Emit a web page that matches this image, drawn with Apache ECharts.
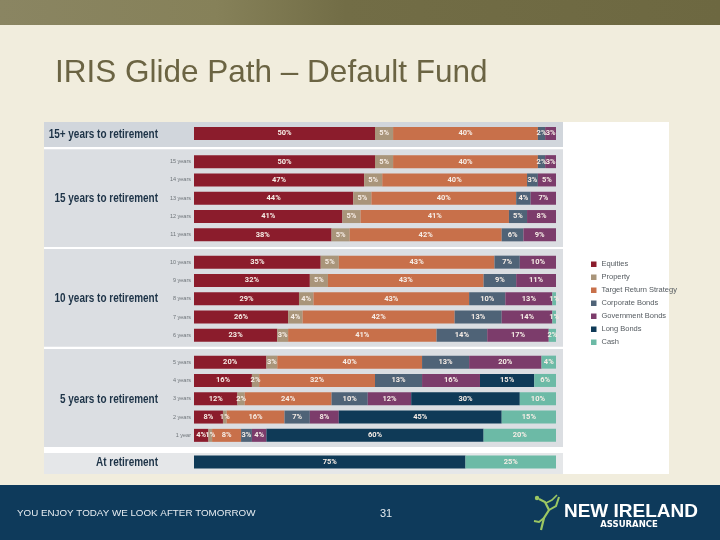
<!DOCTYPE html>
<html>
<head>
<meta charset="utf-8">
<script src="https://cdn.jsdelivr.net/npm/echarts@6/dist/echarts.min.js"></script>
<style>html,body{margin:0;padding:0;background:#f1eddd;}#c{width:720px;height:540px;}</style>
</head>
<body>
<div id="c"></div>
<script>
// ---- data ----
const rowLabels = ['', '15 years', '14 years', '13 years', '12 years', '11 years',
  '10 years', '9 years', '8 years', '7 years', '6 years',
  '5 years', '4 years', '3 years', '2 years', '1 year', ''];
const groupNames = ['15+ years to retirement', '15 years to retirement', '10 years to retirement', '5 years to retirement', 'At retirement'];
const groupSizes = [1, 5, 5, 5, 1];
const assetNames = ['Equities', 'Property', 'Target Return Strategy', 'Corporate Bonds', 'Government Bonds', 'Long Bonds', 'Cash'];
const equities   = [50, 50, 47, 44, 41, 38, 35, 32, 29, 26, 23, 20, 16, 12, 8, 4, 0];
const property   = [5, 5, 5, 5, 5, 5, 5, 5, 4, 4, 3, 3, 2, 2, 1, 1, 0];
const targetRet  = [40, 40, 40, 40, 41, 42, 43, 43, 43, 42, 41, 40, 32, 24, 16, 8, 0];
const corpBonds  = [2, 2, 3, 4, 5, 6, 7, 9, 10, 13, 14, 13, 13, 10, 7, 3, 0];
const govBonds   = [3, 3, 5, 7, 8, 9, 10, 11, 13, 14, 17, 20, 16, 12, 8, 4, 0];
const longBonds  = [0, 0, 0, 0, 0, 0, 0, 0, 0, 0, 0, 0, 15, 30, 45, 60, 75];
const cash       = [0, 0, 0, 0, 0, 0, 0, 0, 1, 1, 2, 4, 6, 10, 15, 20, 25];
const assetValues = [equities, property, targetRet, corpBonds, govBonds, longBonds, cash];

// ---- styles ----
const colors = ['#8b1c2c', '#a9957a', '#c8704a', '#4f6377', '#7c3c6b', '#0f3a57', '#6cbaa6'];
const gridTops = [124, 152.5, 253, 353, 452.5];
const gridHeights = [19, 91.5, 91.5, 91.5, 19];
const bands = [[122, 147, '#d1d6dc'], [149.3, 247, '#dbdee2'], [249, 346.7, '#dbdee2'], [349, 447, '#dbdee2'], [453, 474, '#e5e7e9']];
const sans = "'Liberation Sans', Arial, sans-serif";

const grids = [], xAxes = [], yAxes = [], series = [];
let start = 0;
groupSizes.forEach((n, g) => {
  grids.push({left: 194, width: 362, top: gridTops[g], height: gridHeights[g], containLabel: false});
  xAxes.push({type: 'value', gridIndex: g, min: 0, max: 100, show: false});
  yAxes.push({
    type: 'category', gridIndex: g, inverse: true,
    data: rowLabels.slice(start, start + n),
    axisLine: {show: false}, axisTick: {show: false}, splitLine: {show: false},
    axisLabel: {fontSize: 5.5, color: '#6d7378', margin: 3, fontFamily: sans}
  });
  assetNames.forEach((name, a) => {
    series.push({
      name: name, type: 'bar', stack: 'g' + g,
      xAxisIndex: g, yAxisIndex: g,
      barWidth: 13,
      itemStyle: {color: colors[a]},
      label: {show: true, position: 'inside', formatter: '{c}%', color: '#f6ede6',
        fontSize: 7.5, fontWeight: 'bold', fontFamily: "Roboto, 'Liberation Sans', sans-serif"},
      data: assetValues[a].slice(start, start + n).map(v => v === 0 ? null : v)
    });
  });
  start += n;
});

const graphics = [
  {type: 'rect', shape: {x: 0, y: 0, width: 720, height: 25}, style: {fill: new echarts.graphic.LinearGradient(0, 0, 1, 0, [
    {offset: 0, color: '#8a8562'}, {offset: 0.3, color: '#868159'}, {offset: 0.48, color: '#726d46'}, {offset: 1, color: '#6d6841'}])}, z: -10},
  {type: 'text', x: 55, y: 89, style: {text: 'IRIS Glide Path – Default Fund', fill: '#6b6443',
    font: "31.5px " + sans, textVerticalAlign: 'bottom'}},
  {type: 'rect', shape: {x: 44, y: 122, width: 625, height: 352}, style: {fill: '#ffffff'}, z: -10},
  {type: 'rect', shape: {x: 0, y: 485, width: 720, height: 55}, style: {fill: '#0e3a5b'}, z: -10},
  {type: 'text', x: 17, y: 513, style: {text: 'YOU ENJOY TODAY WE LOOK AFTER TOMORROW', fill: '#e6ecf1',
    font: "9.8px " + sans, textVerticalAlign: 'middle'}},
  {type: 'text', x: 386, y: 514, style: {text: '31', fill: '#e6ecf1', font: "11px " + sans,
    textAlign: 'center', textVerticalAlign: 'middle'}},
  {type: 'text', x: 631, y: 512, style: {text: 'NEW IRELAND', fill: '#ffffff', font: "bold 19px " + sans,
    textAlign: 'center', textVerticalAlign: 'middle'}},
  {type: 'text', x: 629, y: 525, style: {text: 'ASSURANCE', fill: '#ffffff', font: "bold 8.5px 'DejaVu Sans', sans-serif",
    textAlign: 'center', textVerticalAlign: 'middle'}},
  {type: 'polyline', shape: {points: [[541, 530], [544, 518], [549, 510], [545, 502], [539, 499]]}, style: {stroke: '#9cc763', lineWidth: 2.2, fill: null}},
  {type: 'polyline', shape: {points: [[549, 510], [556, 506], [559, 497]]}, style: {stroke: '#9cc763', lineWidth: 2, fill: null}},
  {type: 'polyline', shape: {points: [[546, 503], [552, 500], [557, 495]]}, style: {stroke: '#9cc763', lineWidth: 1.6, fill: null}},
  {type: 'polyline', shape: {points: [[544, 518], [539, 522], [534, 521]]}, style: {stroke: '#9cc763', lineWidth: 1.8, fill: null}},
  {type: 'circle', shape: {cx: 537, cy: 498, r: 2.2}, style: {fill: '#9cc763'}}
];
bands.forEach(b => graphics.push({type: 'rect', shape: {x: 44, y: b[0], width: 519, height: b[1] - b[0]}, style: {fill: b[2]}, z: -9}));
const labelY = [134.5, 198.5, 299, 400, 463];
groupNames.forEach((t, i) => graphics.push({type: 'text', x: 158, y: labelY[i], scaleX: 0.83, style: {text: t, fill: '#1d3347',
  font: "bold 12px " + sans, textAlign: 'right', textVerticalAlign: 'middle'}}));

const chart = echarts.init(document.getElementById('c'), null, {renderer: 'canvas'});
chart.setOption({
  backgroundColor: '#f1eddd',
  animation: false,
  grid: grids, xAxis: xAxes, yAxis: yAxes, series: series,
  legend: {
    data: assetNames, orient: 'vertical', left: 586, top: 255,
    icon: 'rect', itemWidth: 5.5, itemHeight: 5.5, itemGap: 4.5, selectedMode: false,
    textStyle: {fontSize: 7.5, color: '#555b60', fontFamily: sans, lineHeight: 8.5}
  },
  graphic: {elements: graphics}
});
</script>
</body>
</html>
